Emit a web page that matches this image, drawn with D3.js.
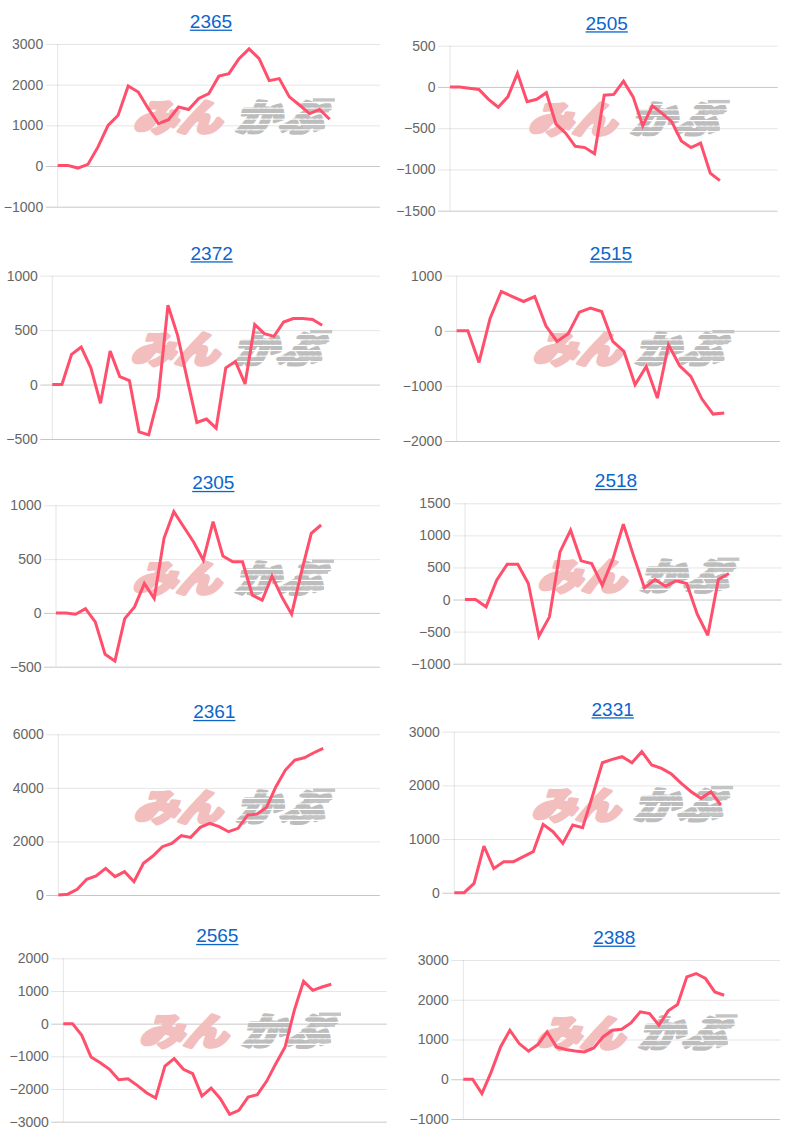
<!DOCTYPE html>
<html><head><meta charset="utf-8">
<script src="https://cdn.jsdelivr.net/npm/d3@7"></script>
<style>body{margin:0;background:#fff}svg{display:block}</style>
</head><body><svg id="c" width="800" height="1138"></svg>
<script>
// ---------- data ----------
const titles = ["2365","2505","2372","2515","2305","2518","2361","2331","2565","2388"];
const labelCounts = [33,35,35,30,34,31,35,34,36,35];
const s2365 = [15,15,-50,40,470,1000,1250,1970,1820,1410,1040,1140,1450,1390,1660,1780,2210,2270,2640,2880,2640,2100,2150,1700,1500,1290,1390,1150];
const s2505 = [0,0,-15,-30,-150,-245,-120,165,-180,-150,-70,-450,-560,-720,-735,-810,-100,-90,70,-120,-470,-230,-320,-420,-655,-735,-680,-1045,-1135];
const s2372 = [0,0,277,345,154,-172,308,74,37,-434,-462,-117,729,452,50,-348,-317,-400,154,212,6,551,468,443,575,606,606,597,545];
const s2515 = [0,0,-575,230,713,622,532,622,90,-193,-54,338,411,350,-193,-375,-980,-647,-1221,-254,-634,-828,-1239,-1511,-1492];
const s2305 = [0,0,-12,40,-84,-385,-447,-53,56,273,134,693,941,801,661,491,848,528,475,475,165,118,342,149,-12,382,739,817];
const s2518 = [0,0,-114,301,551,551,250,-572,-270,743,1081,603,561,223,624,1175,665,182,312,208,291,250,-229,-556,312,405];
const s2361 = [0,30,211,585,709,995,684,871,497,1182,1455,1803,1928,2214,2152,2525,2674,2550,2363,2488,2985,3022,3271,4042,4664,5037,5124,5311,5473];
const s2331 = [0,0,174,870,453,578,578,671,764,1273,1137,919,1261,1211,1801,2422,2484,2534,2422,2627,2379,2317,2211,2037,1882,1758,1882,1634];
const s2565 = [0,0,-357,-1020,-1194,-1398,-1714,-1684,-1888,-2112,-2276,-1296,-1071,-1398,-1531,-2214,-1969,-2296,-2776,-2653,-2245,-2173,-1765,-1224,-714,408,1296,1020,1122,1204];
const s2388 = [0,0,-360,185,814,1233,898,705,872,1191,814,747,713,688,789,1065,1233,1258,1418,1695,1653,1359,1720,1879,2576,2660,2534,2198,2114];
const series = [s2365,s2505,s2372,s2515,s2305,s2518,s2361,s2331,s2565,s2388];
const yTicks = [
  [-1000,0,1000,2000,3000],
  [-1500,-1000,-500,0,500],
  [-500,0,500,1000],
  [-2000,-1000,0,1000],
  [-500,0,500,1000],
  [-1000,-500,0,500,1000,1500],
  [0,2000,4000,6000],
  [0,1000,2000,3000],
  [-3000,-2000,-1000,0,1000,2000],
  [-1000,0,1000,2000,3000]
];

// ---------- layout (plot boxes: left, top, right, bottom) ----------
const plotBoxes = [
  [57.7,44,380,206.7],[450,45.7,777.7,210.7],
  [52.3,275.7,380,439],[456.7,275.7,780,441],
  [56,505.3,380,666.7],[465,503.3,781.7,663.7],
  [58.3,734.3,380,895],[454.3,731.7,780,892.7],
  [63.3,958.3,386.7,1121.7],[463.3,960,780,1119]
];
const titleX = [211,606.7,211.7,611,213.3,616,214.3,612.7,217.3,614.3];

const LINE = "#ff4f6c";
const svg = d3.select("#c");
const defs = svg.append("defs");
const clip = defs.append("clipPath").attr("id","stripes");
for (let yy = -46; yy < 10; yy += 6.5) {
  clip.append("rect").attr("x",-20).attr("y",yy).attr("width",160).attr("height",5);
}

function watermark(g, cx, top) {
  const w = g.append("g").attr("transform",`translate(${cx-100},${top+86}) scale(1,0.84)`);
  w.append("text").text("みん")
    .attr("x",0).attr("y",0)
    .attr("transform","skewX(-16)")
    .attr("font-family","'Noto Sans CJK JP'").attr("font-weight",900)
    .attr("font-size",44).attr("fill","#f2bebe").attr("stroke","#f2bebe")
    .attr("stroke-width",4).attr("stroke-linejoin","round");
  const k = w.append("g").attr("transform","translate(102,0)");
  const kk = k.append("g").attr("clip-path","url(#stripes)");
  kk.append("text").text("かぶ")
    .attr("x",0).attr("y",0)
    .attr("transform","skewX(-16)")
    .attr("font-family","'Noto Sans CJK JP'").attr("font-weight",900)
    .attr("font-size",44).attr("fill","#bdbdbd").attr("stroke","#bdbdbd")
    .attr("stroke-width",4).attr("stroke-linejoin","round");
  // speed streaks
  [[78,-39,22],[74,-26,20],[68,-7,22]].forEach(([x0,yy,len])=>{
    k.append("rect").attr("x",x0).attr("y",yy).attr("width",len).attr("height",4)
      .attr("fill","#c4c4c4");
  });
}

series.forEach((vals, i) => {
  const [L,T,R,B] = plotBoxes[i];
  const ticks = yTicks[i];
  const g = svg.append("g");
  const y = d3.scaleLinear().domain(d3.extent(ticks)).range([B,T]);
  const x = d3.scalePoint().domain(d3.range(labelCounts[i])).range([L,R]);

  // grid + tick labels via axis
  const ax = g.append("g").attr("transform",`translate(${L-12},0)`)
    .call(d3.axisLeft(y).tickValues(ticks).tickSizeInner(-(R-L+12)).tickSizeOuter(0).tickPadding(2.5).tickFormat(d3.format("d")));
  ax.select(".domain").remove();
  ax.selectAll(".tick line")
    .attr("stroke", d => (d===0 || d===ticks[0]) ? "rgba(0,0,0,0.22)" : "rgba(0,0,0,0.1)")
    .attr("stroke-width",1);
  ax.selectAll(".tick text")
    .attr("fill","#666").attr("font-size",14)
    .attr("font-family","'Liberation Sans', Arial, sans-serif");
  // vertical axis line
  g.append("line").attr("x1",L).attr("x2",L).attr("y1",T).attr("y2",B)
    .attr("stroke","rgba(0,0,0,0.1)").attr("stroke-width",1);

  watermark(g, (L+R)/2 + 14, T + 1);

  g.append("path").datum(vals)
    .attr("d", d3.line().x((d,j)=>x(j)).y(d=>y(d)))
    .attr("fill","none").attr("stroke",LINE).attr("stroke-width",3)
    .attr("stroke-linejoin","miter").attr("stroke-miterlimit",3);

  // title
  const t = g.append("text").text(titles[i])
    .attr("x",titleX[i]).attr("y",T-16).attr("text-anchor","middle")
    .attr("font-family","'Liberation Sans', Arial, sans-serif")
    .attr("font-size",19).attr("fill","#0b66cc");
  const tw = t.node().getComputedTextLength();
  g.append("rect").attr("x",titleX[i]-tw/2).attr("y",T-14.4).attr("width",tw).attr("height",1.3)
    .attr("fill","#0b66cc");
});
</script></body></html>
